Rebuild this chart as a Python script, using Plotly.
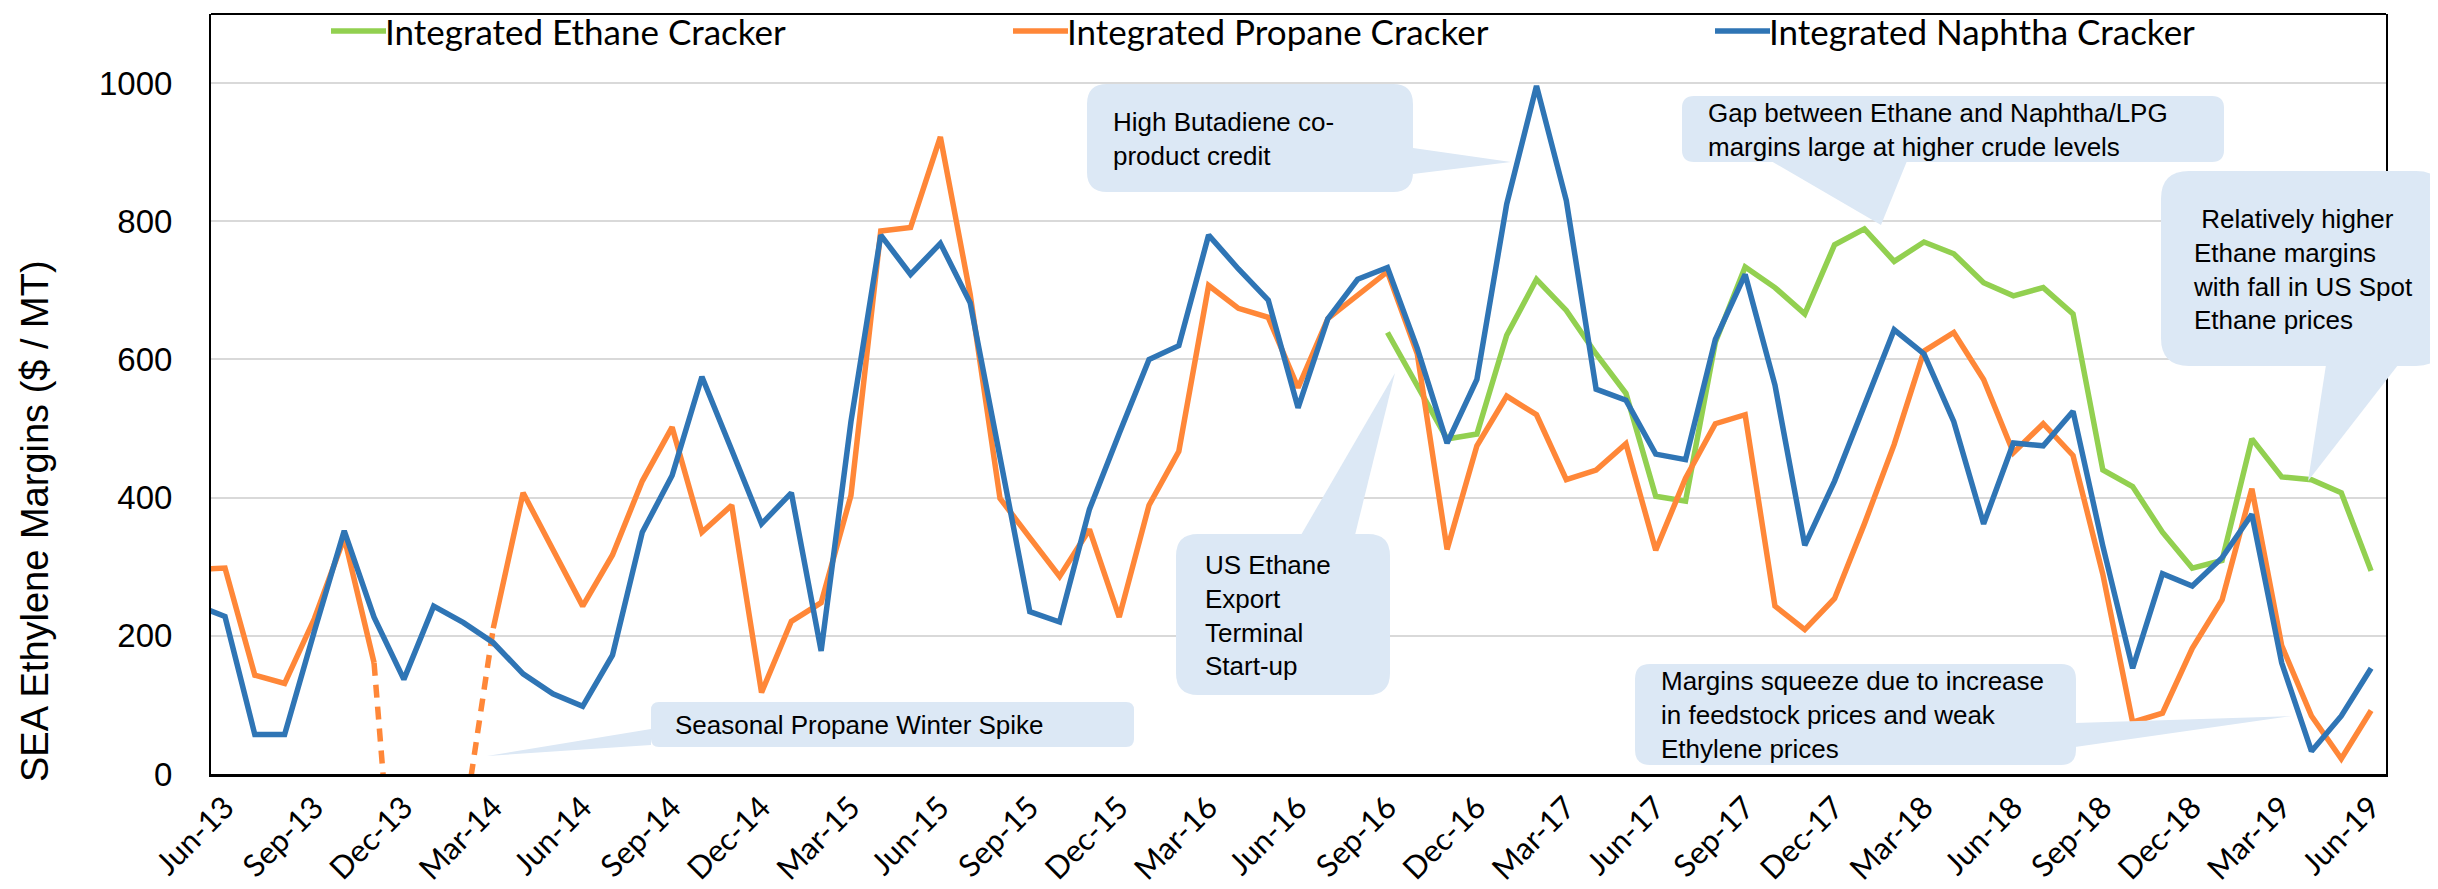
"""
SEA ethylene margins by cracker type, Jun-13 to Jun-19
"""

import plotly.graph_objects as go
import pandas as pd

# monthly categories; May-13 is only there so the line runs into the left edge
months = list(pd.date_range("2013-05-01", "2019-06-01", freq="MS").strftime("%b-%y"))
tick_labels = months[1::3]

ethane = [None] * 40 + [
    639, 563, 485, 492, 635, 716, 671, 608, 551, 402, 395, 625, 734, 704, 666, 766,
    789, 742, 770, 753, 711, 692, 704, 666, 440, 416, 350, 298, 309, 485, 430, 426,
    407, 294,
]

propane = [
    296, 298, 143, 131, 225, 342, 161, None, None, None, 211, 407, 325, 243, 317, 424,
    502, 350, 389, 118, 221, 248, 403, 786, 791, 922, 694, 399, 342, 286, 354, 227,
    389, 467, 707, 674, 661, 559, 659, 694, 727, 608, 325, 475, 547, 520, 426, 440,
    478, 324, 428, 507, 520, 243, 209, 254, 362, 477, 612, 639, 571, 465, 507, 461,
    289, 75, 88, 182, 252, 413, 186, 84, 22, 92,
]

# winter propane dip, drawn dashed (goes below the axis)
propane_gap_months = months[6:11]
propane_gap = [161, -372, -420, -77, 211]

naphtha = [
    245, 228, 57, 57, 207, 352, 227, 137, 243, 219, 190, 145, 116, 98, 172, 350,
    432, 575, 469, 362, 407, 178, 510, 780, 723, 768, 682, 459, 235, 220, 383, 493,
    600, 620, 780, 731, 686, 530, 659, 716, 733, 616, 479, 571, 825, 996, 830, 557,
    541, 463, 455, 629, 723, 563, 331, 424, 534, 643, 608, 510, 362, 479, 475, 525,
    330, 153, 290, 272, 313, 376, 161, 33, 84, 153,
]

series_names = ["Integrated Ethane Cracker", "Integrated Propane Cracker",
                "Integrated Naphtha Cracker"]

GREEN = "#92D050"
ORANGE = "#FF8738"
BLUE = "#2F75B5"
BOX = "#DCE8F5"
LINE_W = 5.5

W_FIG, H_FIG = 2438, 889
PL, PR, PT, PB = 203, 2378, 6, 766


def px(x):
    return (x - PL) / (PR - PL)


def py(y):
    return (PB - y) / (PB - PT)


def rounded_box(x0, y0, x1, y1, r):
    """rounded rectangle path in paper coords, input in pixels"""
    pts = [
        ("M", x0 + r, y0), ("L", x1 - r, y0), ("Q", x1, y0, x1, y0 + r),
        ("L", x1, y1 - r), ("Q", x1, y1, x1 - r, y1), ("L", x0 + r, y1),
        ("Q", x0, y1, x0, y1 - r), ("L", x0, y0 + r), ("Q", x0, y0, x0 + r, y0),
    ]
    path = ""
    for p in pts:
        cmd, vals = p[0], p[1:]
        coords = []
        for i in range(0, len(vals), 2):
            coords.append(f"{px(vals[i]):.5f},{py(vals[i + 1]):.5f}")
        path += cmd + " ".join(coords) + " "
    return path + "Z"


def wedge(points):
    path = "M" + " L".join(f"{px(x):.5f},{py(y):.5f}" for x, y in points)
    return path + " Z"


callouts = [
    dict(box=(643, 694, 1126, 739), r=8, tip=[(643, 721), (643, 737), (479, 748)],
         text="Seasonal Propane Winter Spike", tx=665, ty=717),
    dict(box=(1079, 76, 1405, 184), r=20, tip=[(1405, 140), (1405, 166), (1503, 154)],
         text="High Butadiene co-<br>product credit", tx=1103, ty=131),
    dict(box=(1168, 526, 1382, 687), r=22, tip=[(1293, 527), (1347, 527), (1387, 365)],
         text="US Ethane<br>Export<br>Terminal<br>Start-up", tx=1195, ty=607),
    dict(box=(1674, 88, 2216, 154), r=12, tip=[(1763, 153), (1899, 153), (1873, 217)],
         text="Gap between Ethane and Naphtha/LPG<br>margins large at higher crude levels",
         tx=1698, ty=122),
    dict(box=(2153, 163, 2436, 358), r=28, tip=[(2318, 357), (2390, 357), (2300, 473)],
         text="\u00a0Relatively higher<br>Ethane margins<br>with fall in US Spot<br>Ethane prices",
         tx=2183, ty=261),
    dict(box=(1627, 656, 2068, 757), r=15, tip=[(2067, 715), (2067, 739), (2284, 708)],
         text="Margins squeeze due to increase<br>in feedstock prices and weak<br>Ethylene prices",
         tx=1651, ty=707),
]

fig = go.Figure()

fig.add_trace(go.Scatter(x=months, y=ethane, mode="lines", name=series_names[0],
                         line=dict(color=GREEN, width=LINE_W)))
fig.add_trace(go.Scatter(x=months, y=propane, mode="lines", name=series_names[1],
                         line=dict(color=ORANGE, width=LINE_W)))
fig.add_trace(go.Scatter(x=propane_gap_months, y=propane_gap, mode="lines", name=series_names[1],
                         line=dict(color=ORANGE, width=LINE_W, dash="13px,9px")))
fig.add_trace(go.Scatter(x=months, y=naphtha, mode="lines", name=series_names[2],
                         line=dict(color=BLUE, width=LINE_W)))

shapes = []
annotations = []
for c in callouts:
    shapes.append(dict(type="path", path=wedge(c["tip"]), xref="paper", yref="paper",
                       fillcolor=BOX, line=dict(width=0), layer="above"))
    shapes.append(dict(type="path", path=rounded_box(*c["box"], c["r"]), xref="paper",
                       yref="paper", fillcolor=BOX, line=dict(width=0), layer="above"))
    annotations.append(dict(text=c["text"], x=px(c["tx"]), y=py(c["ty"]), xref="paper",
                            yref="paper", xanchor="left", yanchor="middle", align="left",
                            showarrow=False,
                            font=dict(family="Liberation Sans, Arial", size=26, color="#000000")))

# legend row along the top edge (drawn by hand so it can sit tight to the border)
legend_x = [323, 1005, 1707]
for name, color, x0 in zip(series_names, [GREEN, ORANGE, BLUE], legend_x):
    shapes.append(dict(type="line", xref="paper", yref="paper", x0=px(x0), x1=px(x0 + 55),
                       y0=py(23), y1=py(23), line=dict(color=color, width=LINE_W)))
    annotations.append(dict(text=name, x=px(x0 + 52), y=py(23), xref="paper", yref="paper",
                            xanchor="left", yanchor="middle", showarrow=False,
                            font=dict(family="Lato", size=35, color="#000000")))

# top border of the plot area
shapes.append(dict(type="line", xref="paper", yref="paper", x0=0, x1=1, y0=1, y1=1,
                   line=dict(color="#000000", width=2)))

annotations.append(dict(text="SEA Ethylene Margins ($ / MT)", textangle=-90,
                        x=px(27), y=py(513), xref="paper", yref="paper",
                        xanchor="center", yanchor="middle", showarrow=False,
                        font=dict(family="Liberation Sans, Arial", size=38, color="#000000")))

fig.update_layout(
    width=W_FIG,
    height=H_FIG,
    paper_bgcolor="#FFFFFF",
    plot_bgcolor="#FFFFFF",
    margin=dict(l=PL, r=W_FIG - PR, t=PT, b=H_FIG - PB, autoexpand=False),
    shapes=shapes,
    annotations=annotations,
    showlegend=False,
    xaxis=dict(
        type="category",
        categoryorder="array",
        categoryarray=months,
        range=[0.53, 73.5],
        tickmode="array",
        tickvals=tick_labels,
        ticktext=tick_labels,
        tickangle=-45,
        tickfont=dict(family="Lato", size=31, color="#000000"),
        showgrid=False,
        showline=True,
        linecolor="#000000",
        linewidth=3,
        ticks="",
        automargin=False,
    ),
    yaxis=dict(
        range=[0, 1100],
        tickvals=[0, 200, 400, 600, 800, 1000],
        tickfont=dict(family="Liberation Sans, Arial", size=33, color="#000000"),
        showgrid=True,
        gridcolor="#D9D9D9",
        gridwidth=2,
        zeroline=False,
        showline=True,
        mirror=True,
        linecolor="#000000",
        linewidth=2,
        ticks="",
        ticklabelstandoff=30,
        automargin=False,
    ),
)

fig.write_html("out.html")
